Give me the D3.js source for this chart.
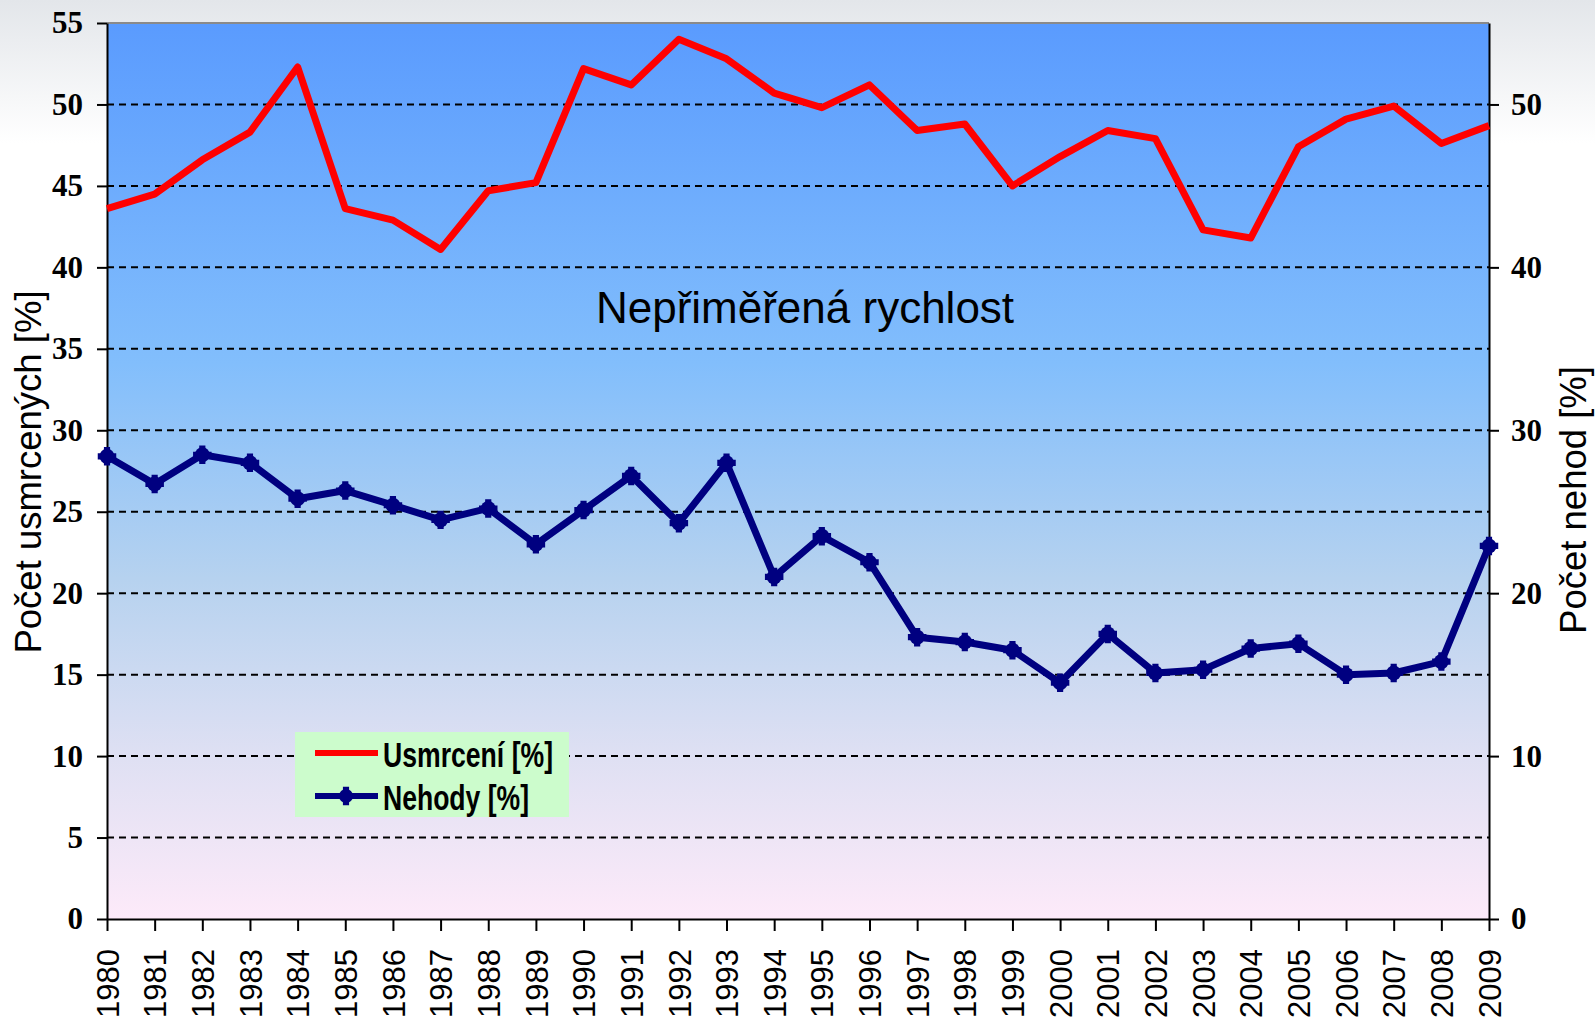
<!doctype html>
<html lang="cs">
<head>
<meta charset="utf-8">
<title>Nepřiměřená rychlost</title>
<script src="https://d3js.org/d3.v7.min.js"></script>
<style>
  html, body { margin: 0; padding: 0; background: #fff; }
  svg { display: block; }
</style>
</head>
<body>
<div id="chart"></div>
<script>
// data
var years = d3.range(1980, 2010);
var usmrceni = [43.6, 44.5, 46.6, 48.3, 52.3, 43.6, 42.9, 41.1, 44.7, 45.2,
                52.2, 51.2, 54.0, 52.8, 50.7, 49.8, 51.2, 48.4, 48.8, 45.0,
                46.8, 48.4, 47.9, 42.3, 41.8, 47.4, 49.1, 49.9, 47.6, 48.7];
var nehody = [28.4, 26.7, 28.5, 28.0, 25.8, 26.3, 25.4, 24.5, 25.2, 23.0,
              25.1, 27.2, 24.3, 28.0, 21.0, 23.5, 21.9, 17.3, 17.0, 16.5,
              14.5, 17.5, 15.1, 15.3, 16.6, 16.9, 15.0, 15.1, 15.8, 22.9];
var leftTicks = d3.range(0, 56, 5);
var rightTicks = d3.range(0, 51, 10);
var gridTicks = d3.range(5, 51, 5);

var width = 1595, height = 1023;
var plotLeft = 107, plotRight = 1489, plotTop = 23, plotBottom = 919;

var svg = d3.select("#chart").append("svg")
    .attr("width", width)
    .attr("height", height);

var defs = svg.append("defs");
var bgGrad = defs.append("linearGradient").attr("id", "bg")
    .attr("x1", 0).attr("y1", 0).attr("x2", 0).attr("y2", 1);
bgGrad.append("stop").attr("offset", "0").attr("stop-color", "#e3e6ea");
bgGrad.append("stop").attr("offset", "0.14").attr("stop-color", "#ffffff");
bgGrad.append("stop").attr("offset", "1").attr("stop-color", "#ffffff");

var plotGrad = defs.append("linearGradient").attr("id", "plotbg")
    .attr("x1", 0).attr("y1", 0).attr("x2", 0).attr("y2", 1);
[["0", "#5a9bfe"], ["0.38", "#82befc"], ["0.62", "#b6d2ef"],
 ["0.82", "#dfe0f3"], ["1", "#fdeaf9"]].forEach(function (s) {
    plotGrad.append("stop").attr("offset", s[0]).attr("stop-color", s[1]);
});

svg.append("rect").attr("width", width).attr("height", height).attr("fill", "url(#bg)");

var x = d3.scaleLinear().domain([1980, 2009]).range([plotLeft, plotRight]);
var y = d3.scaleLinear().domain([0, 55]).range([plotBottom, plotTop]);

svg.append("rect")
    .attr("x", plotLeft).attr("y", plotTop)
    .attr("width", plotRight - plotLeft).attr("height", plotBottom - plotTop)
    .attr("fill", "url(#plotbg)");

// top border
svg.append("line")
    .attr("x1", plotLeft).attr("x2", plotRight).attr("y1", plotTop).attr("y2", plotTop)
    .attr("stroke", "#8a8a8a").attr("stroke-width", 2);

// dashed grid
svg.append("g").selectAll("line")
    .data(gridTicks)
    .enter().append("line")
    .attr("x1", plotLeft).attr("x2", plotRight)
    .attr("y1", function (d) { return y(d); })
    .attr("y2", function (d) { return y(d); })
    .attr("stroke", "#000")
    .attr("stroke-width", 2)
    .attr("stroke-dasharray", "7,5");

// left axis
var gl = svg.append("g")
    .attr("transform", "translate(" + plotLeft + ",0)")
    .call(d3.axisLeft(y).tickValues(leftTicks).tickSize(10).tickSizeOuter(0).tickPadding(14));
// right axis
var gr = svg.append("g")
    .attr("transform", "translate(" + plotRight + ",0)")
    .call(d3.axisRight(y).tickValues(rightTicks).tickSize(10).tickSizeOuter(0).tickPadding(12));
[gl, gr].forEach(function (g) {
    g.select(".domain").attr("stroke", "#000").attr("stroke-width", 2);
    g.selectAll(".tick line").attr("stroke", "#000").attr("stroke-width", 2);
    g.selectAll(".tick text")
        .attr("fill", "#000")
        .style("font-family", "'Liberation Serif', 'Times New Roman', serif")
        .style("font-weight", "bold")
        .style("font-size", "31px");
});

// bottom axis
var gb = svg.append("g")
    .attr("transform", "translate(0," + plotBottom + ")")
    .call(d3.axisBottom(x).tickValues(years).tickFormat(d3.format("d")).tickSize(12).tickSizeOuter(0));
gb.select(".domain").attr("stroke", "#000").attr("stroke-width", 2);
gb.selectAll(".tick line").attr("stroke", "#000").attr("stroke-width", 2);
gb.selectAll(".tick text")
    .attr("fill", "#000")
    .attr("transform", "translate(0,30) rotate(-90)")
    .attr("x", 0).attr("y", 0).attr("dy", "0.36em")
    .attr("text-anchor", "end")
    .style("font-family", "'Liberation Sans', Arial, sans-serif")
    .style("font-size", "31px");

// lines
var seriesLine = d3.line()
    .x(function (d, i) { return x(years[i]); })
    .y(function (d) { return y(d); });

svg.append("path")
    .datum(usmrceni)
    .attr("d", seriesLine)
    .attr("fill", "none")
    .attr("stroke", "#ff0000")
    .attr("stroke-width", 7)
    .attr("stroke-linejoin", "round");

svg.append("path")
    .datum(nehody)
    .attr("d", seriesLine)
    .attr("fill", "none")
    .attr("stroke", "#000080")
    .attr("stroke-width", 7)
    .attr("stroke-linejoin", "round");

var marker = d3.symbol().type(d3.symbolCross).size(190);
var mk = svg.append("g").selectAll("g")
    .data(nehody)
    .enter().append("g")
    .attr("transform", function (d, i) { return "translate(" + x(years[i]) + "," + y(d) + ")"; });
mk.append("circle").attr("r", 7.5).attr("fill", "#000080");
mk.append("path").attr("d", marker).attr("fill", "#000080");

// title
svg.append("text")
    .attr("x", 805).attr("y", 323)
    .attr("text-anchor", "middle")
    .style("font-family", "'Liberation Sans', Arial, sans-serif")
    .style("font-size", "44px")
    .attr("fill", "#000")
    .text("Nepřiměřená rychlost");

// axis titles
svg.append("text")
    .attr("transform", "translate(41,472) rotate(-90)")
    .attr("text-anchor", "middle")
    .style("font-family", "'Liberation Sans', Arial, sans-serif")
    .style("font-size", "36.5px")
    .attr("fill", "#000")
    .text("Počet usmrcených [%]");

svg.append("text")
    .attr("transform", "translate(1586,500) rotate(-90)")
    .attr("text-anchor", "middle")
    .style("font-family", "'Liberation Sans', Arial, sans-serif")
    .style("font-size", "36.5px")
    .attr("fill", "#000")
    .text("Počet nehod [%]");

// legend
var legend = svg.append("g").attr("transform", "translate(295,732)");
legend.append("rect")
    .attr("width", 274).attr("height", 85)
    .attr("fill", "#ccfccc");
var items = [
    { name: "Usmrcení [%]", color: "#ff0000", marker: false, len: 170 },
    { name: "Nehody [%]", color: "#000080", marker: true, len: 146 }
];
var li = legend.selectAll(".item")
    .data(items)
    .enter().append("g")
    .attr("transform", function (d, i) { return "translate(0," + (21 + i * 43) + ")"; });
li.append("line")
    .attr("x1", 20).attr("x2", 83)
    .attr("stroke", function (d) { return d.color; })
    .attr("stroke-width", 6);
li.filter(function (d) { return d.marker; }).append("circle")
    .attr("cx", 51).attr("r", 7).attr("fill", "#000080");
li.filter(function (d) { return d.marker; }).append("path")
    .attr("transform", "translate(51,0)")
    .attr("d", marker).attr("fill", "#000080");
li.append("text")
    .attr("x", 88).attr("y", 14)
    .attr("textLength", function (d) { return d.len; })
    .attr("lengthAdjust", "spacingAndGlyphs")
    .style("font-family", "'Liberation Sans', Arial, sans-serif")
    .style("font-weight", "bold")
    .style("font-size", "35px")
    .attr("fill", "#000")
    .text(function (d) { return d.name; });
</script>
</body>
</html>
